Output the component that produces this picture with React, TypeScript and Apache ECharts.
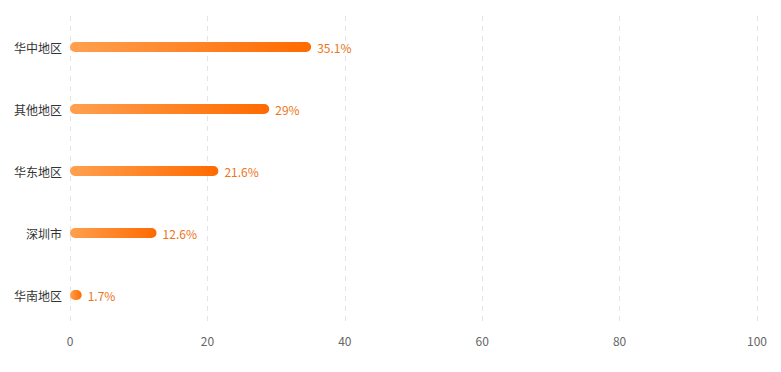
import React, { useEffect, useRef } from "react";
import * as echarts from "echarts";

const categories = ["华中地区", "其他地区", "华东地区", "深圳市", "华南地区"];
const values = [35.1, 29, 21.6, 12.6, 1.7];

export default function App() {
  const ref = useRef<HTMLDivElement>(null);
  useEffect(() => {
    const chart = echarts.init(ref.current!, null, { renderer: "svg" });
    chart.setOption({
      animation: false,
      grid: { left: 70, right: 24, top: 16, bottom: 46, containLabel: false },
      xAxis: {
        type: "value",
        min: 0,
        max: 100,
        interval: 20,
        axisLine: { show: false },
        axisTick: { show: false },
        axisLabel: { color: "#666", fontSize: 12, margin: 8, fontFamily: "Noto Sans CJK SC" },
        splitLine: { show: true, lineStyle: { type: [5, 5], color: "#e4e4e4" } },
      },
      yAxis: {
        type: "category",
        inverse: true,
        data: categories,
        axisLine: { show: false },
        axisTick: { show: false },
        axisLabel: { color: "#333", fontSize: 12, margin: 8, fontFamily: "Noto Sans CJK SC" },
      },
      series: [
        {
          type: "bar",
          data: values,
          barWidth: 10,
          itemStyle: {
            borderRadius: 5,
            color: new echarts.graphic.LinearGradient(0, 0, 1, 0, [
              { offset: 0, color: "#FFA04F" },
              { offset: 1, color: "#FF6A00" },
            ]),
          },
          label: {
            show: true,
            position: "right",
            distance: 6,
            formatter: "{c}%",
            color: "#EE7420",
            fontSize: 12,
            fontFamily: "Noto Sans CJK SC",
          },
        },
      ],
    });
    return () => chart.dispose();
  }, []);
  return <div ref={ref} style={{ width: 781, height: 372, position: "absolute", left: 0, top: 0 }} />;
}
